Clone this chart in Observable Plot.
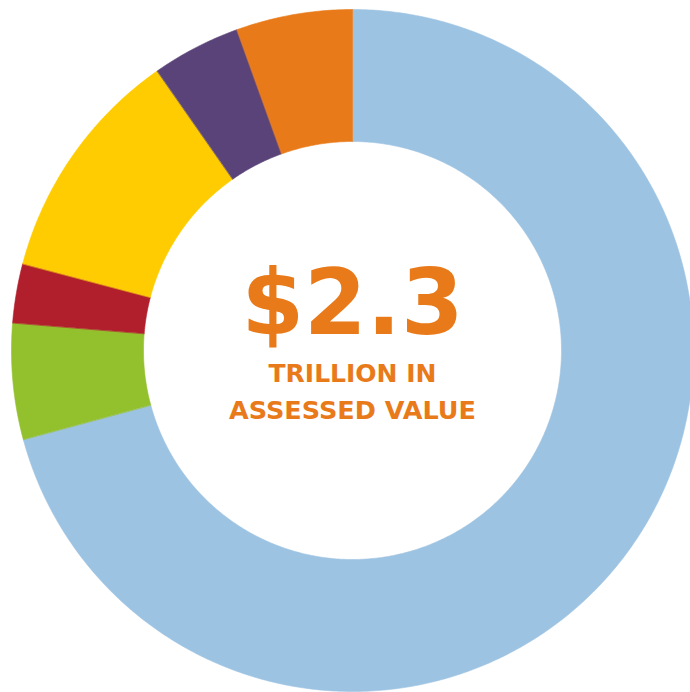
<!DOCTYPE html>
<html>
<head>
<meta charset="utf-8">
<script src="https://cdn.jsdelivr.net/npm/d3@7"></script>
<script src="https://cdn.jsdelivr.net/npm/@observablehq/plot@0.6"></script>
<style>
  html, body { margin: 0; padding: 0; background: #fff; overflow: hidden; }
  #chart svg { display: block; }
</style>
</head>
<body>
<div id="chart"></div>
<script>
// Slices, clockwise from 12 o'clock (share of total assessed value, %)
const categories = ["Segment A", "Segment B", "Segment C", "Segment D", "Segment E", "Segment F"];
const values = [70.8, 5.5, 2.8, 11.2, 4.2, 5.5];
const colors = ["#9DC3E2", "#93C02D", "#B01F2B", "#FECC00", "#5A4379", "#E97A1A"];

const centerValue = "$2.3";
const centerLines = ["TRILLION IN", "ASSESSED VALUE"];

const W = 690, H = 692;
const cx = 352, cy = 350, R = 341, r = 209;

// Build ring-segment polygons from the values
const total = d3.sum(values);
const pts = [];
let acc = 0;
categories.forEach((c, i) => {
  const a0 = acc / total * 2 * Math.PI;
  acc += values[i];
  const a1 = acc / total * 2 * Math.PI;
  const n = Math.max(8, Math.ceil((a1 - a0) / 0.01));
  for (let k = 0; k <= n; k++) {
    const a = a0 + (a1 - a0) * k / n;
    pts.push({cat: c, x: R * Math.sin(a), y: R * Math.cos(a)});
  }
  for (let k = n; k >= 0; k--) {
    const a = a0 + (a1 - a0) * k / n;
    pts.push({cat: c, x: r * Math.sin(a), y: r * Math.cos(a)});
  }
});

const chart = Plot.plot({
  width: W,
  height: H,
  margin: 0,
  x: {domain: [-cx, W - cx], range: [0, W], axis: null},
  y: {domain: [-(H - cy), cy], range: [H, 0], axis: null},
  color: {type: "ordinal", domain: categories, range: colors},
  marks: [
    Plot.line(pts, {x: "x", y: "y", z: "cat", fill: "cat", stroke: "cat", strokeWidth: 0.6, curve: "linear-closed"}),
    Plot.text([centerValue], {x: () => 0, y: () => 0, text: d => d, dy: -17, lineAnchor: "bottom",
      fill: "#E97A1A", fontSize: 90, fontWeight: "bold", fontFamily: "DejaVu Sans"}),
    Plot.text([centerLines[0]], {x: () => 0, y: () => 0, text: d => d, dy: 31, lineAnchor: "bottom",
      fill: "#E97A1A", fontSize: 25, fontWeight: "bold", fontFamily: "DejaVu Sans"}),
    Plot.text([centerLines[1]], {x: () => 0, y: () => 0, text: d => d, dy: 68, lineAnchor: "bottom",
      fill: "#E97A1A", fontSize: 25.5, fontWeight: "bold", fontFamily: "DejaVu Sans"})
  ]
});
document.getElementById("chart").appendChild(chart);
</script>
</body>
</html>
